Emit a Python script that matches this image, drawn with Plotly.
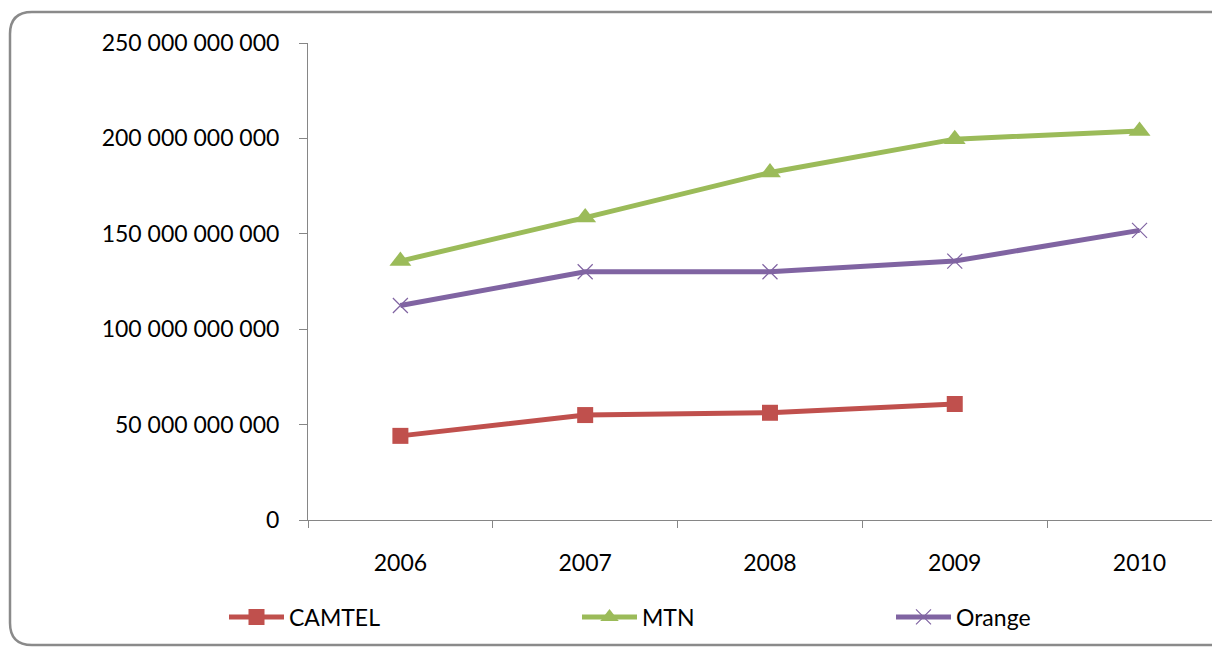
import plotly.graph_objects as go

years = ["2006", "2007", "2008", "2009", "2010"]
camtel = [44.1e9, 55.0e9, 56.2e9, 60.8e9, None]
mtn = [135.7e9, 158.5e9, 182.1e9, 199.6e9, 203.9e9]
orange = [112.4e9, 130.1e9, 130.1e9, 135.7e9, 151.8e9]
y_ticks = [0, 50e9, 100e9, 150e9, 200e9, 250e9]
y_tick_labels = ["0", "50 000 000 000", "100 000 000 000", "150 000 000 000",
                 "200 000 000 000", "250 000 000 000"]

FONT = "Lato"
FS = 23
OFF = 8  # page body margin
W, H = 1220 - OFF, 648 - OFF
L, R, T = 308 - OFF, 1, 43 - OFF
B = H - (520 - OFF)
pw, ph = W - L - R, H - T - B


def px(x):  # x in window pixels -> paper
    return (x - OFF - L) / pw


def py(y):  # y in window pixels -> paper
    return (H - B - (y - OFF)) / ph


fig = go.Figure()
fig.add_trace(go.Scatter(x=years, y=camtel, name="CAMTEL", mode="lines+markers",
                         line=dict(color="#C0504D", width=5),
                         marker=dict(symbol="square", size=16, color="#C0504D"),
                         legend="legend"))
fig.add_trace(go.Scatter(x=years, y=mtn, name="MTN", mode="lines+markers",
                         line=dict(color="#9BBB59", width=5),
                         marker=dict(symbol="triangle-up", size=19, color="#9BBB59"),
                         legend="legend2"))
fig.add_trace(go.Scatter(x=years, y=orange, name="Orange", mode="lines+markers",
                         line=dict(color="#8064A2", width=5),
                         marker=dict(symbol="x-thin", size=15,
                                     line=dict(color="#8064A2", width=1.2)),
                         legend="legend3"))

# rounded chart-area border
xl, yt, yb, xr = px(10), py(12), py(645), px(1240)
rx, ry = 22 / pw, 22 / ph
path = (f"M {xr},{yt} L {xl+rx},{yt} Q {xl},{yt} {xl},{yt-ry} "
        f"L {xl},{yb+ry} Q {xl},{yb} {xl+rx},{yb} L {xr},{yb}")
fig.add_shape(type="path", path=path, xref="paper", yref="paper",
              line=dict(color="#8a8a8a", width=2.5), layer="below")

legend_common = dict(orientation="h", yanchor="middle", xanchor="left",
                     font=dict(family=FONT, size=FS, color="#000000"),
                     bgcolor="rgba(0,0,0,0)", itemwidth=55, tracegroupgap=0)
fig.update_layout(
    width=W, height=H,
    margin=dict(l=L, r=R, t=T, b=B),
    paper_bgcolor="white", plot_bgcolor="white",
    font=dict(family=FONT, size=FS, color="#000000"),
    showlegend=True,
    legend=dict(x=px(224), y=py(617), **legend_common),
    legend2=dict(x=px(577), y=py(617), **legend_common),
    legend3=dict(x=px(891), y=py(617), **legend_common),
    xaxis=dict(type="category", range=[-0.5, 4.43], showgrid=False,
               showline=True, linecolor="#868686", linewidth=1,
               ticks="outside", tickson="boundaries", ticklen=7,
               tickcolor="#868686", ticklabelstandoff=22,
               tickfont=dict(family=FONT, size=FS)),
    yaxis=dict(range=[0, 250e9], showgrid=False, zeroline=False,
               showline=True, linecolor="#868686", linewidth=1,
               ticks="outside", ticklen=8, tickcolor="#868686",
               tickvals=y_ticks, ticktext=y_tick_labels,
               ticklabelstandoff=15, tickfont=dict(family=FONT, size=FS)),
)

fig.write_html("out.html")
